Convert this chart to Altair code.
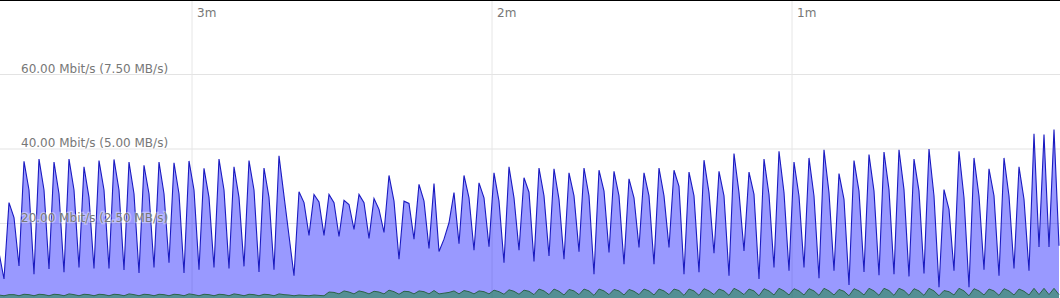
import altair as alt
import pandas as pd

# received (blue) throughput, Mbit/s, one sample per second, oldest first
rx_mbit = [
    12.2, 5.1, 25.6, 21.6, 8.6, 36.7, 29.0, 6.4, 37.3, 29.0,
    7.8, 36.5, 28.0, 6.9, 37.3, 29.0, 8.2, 35.2, 27.0, 7.9,
    36.9, 29.0, 7.9, 37.2, 29.0, 7.5, 36.5, 28.0, 6.7, 35.6,
    28.0, 8.2, 36.5, 28.0, 9.5, 36.3, 28.0, 6.7, 36.8, 29.0,
    7.6, 34.8, 27.0, 8.2, 37.3, 29.0, 7.9, 35.2, 27.0, 8.5,
    36.9, 29.0, 7.0, 34.9, 27.0, 7.6, 38.2, 27.4, 16.7, 6.0,
    28.5, 25.6, 16.8, 27.8, 25.8, 16.8, 27.8, 25.6, 16.5, 26.2,
    25.1, 18.4, 27.8, 25.6, 16.0, 26.7, 23.8, 17.6, 32.9, 26.0,
    10.4, 26.0, 25.4, 15.8, 30.5, 26.0, 13.3, 30.7, 12.5, 15.8,
    20.2, 28.3, 14.6, 32.9, 26.9, 12.8, 30.9, 26.9, 13.8, 33.6,
    26.0, 9.5, 35.2, 26.9, 12.8, 32.3, 28.4, 9.8, 34.9, 27.4,
    11.3, 34.7, 26.5, 10.4, 33.6, 27.4, 12.4, 34.9, 27.4, 6.4,
    34.3, 28.7, 12.2, 34.0, 27.4, 9.1, 32.0, 26.9, 13.6, 33.6,
    27.4, 9.1, 34.9, 27.4, 13.6, 34.3, 30.0, 6.4, 33.8, 27.4,
    6.9, 37.0, 28.3, 12.0, 34.0, 27.4, 6.0, 38.8, 28.3, 12.6,
    33.8, 27.8, 5.1, 37.3, 27.8, 8.2, 39.4, 28.3, 7.3, 36.5,
    27.4, 8.2, 37.6, 27.4, 5.3, 39.8, 28.3, 7.3, 33.4, 26.5,
    3.5, 36.9, 28.7, 7.0, 38.5, 28.7, 6.1, 39.2, 29.1, 6.4,
    39.8, 29.1, 5.8, 37.3, 28.7, 6.6, 40.0, 27.4, 2.9, 29.1,
    23.8, 7.3, 39.4, 26.9, 2.9, 37.6, 27.4, 7.6, 34.7, 27.4,
    6.0, 37.6, 27.4, 7.9, 35.2, 26.5, 7.3, 44.1, 13.7, 43.9,
    13.7, 45.2, 14.0,
]

# transmitted (green) throughput, Mbit/s
tx_mbit = [
    0.8, 0.6, 0.9, 0.9, 0.6, 1.0, 0.9, 0.6, 1.0, 0.9,
    0.6, 1.0, 0.9, 0.6, 1.1, 0.9, 0.6, 1.0, 0.9, 0.6,
    1.0, 0.9, 0.6, 1.0, 0.9, 0.6, 1.1, 0.9, 0.6, 1.0,
    0.9, 0.6, 1.0, 0.9, 0.6, 1.0, 0.9, 0.6, 1.1, 0.9,
    0.6, 1.0, 0.9, 0.6, 1.0, 0.9, 0.6, 1.1, 0.9, 0.6,
    1.0, 0.9, 0.6, 1.0, 0.9, 0.6, 1.1, 0.9, 0.8, 0.6,
    0.8, 0.7, 0.6, 0.8, 0.7, 0.6, 1.6, 1.5, 1.1, 1.9,
    1.6, 1.1, 1.9, 1.6, 1.1, 1.8, 1.6, 1.1, 2.1, 1.7,
    1.0, 1.8, 1.7, 1.1, 1.9, 1.7, 1.1, 2.0, 1.1, 1.3,
    1.5, 1.9, 1.1, 2.0, 1.7, 1.1, 1.9, 1.7, 1.1, 2.1,
    1.7, 1.0, 2.2, 1.8, 1.0, 2.1, 1.8, 0.9, 2.4, 1.9,
    0.9, 2.4, 1.8, 0.8, 2.3, 1.9, 0.9, 2.4, 1.9, 0.7,
    2.4, 1.9, 0.9, 2.3, 1.9, 0.8, 2.3, 1.8, 0.9, 2.4,
    1.9, 0.8, 2.4, 1.9, 0.9, 2.4, 2.0, 0.7, 2.4, 1.9,
    0.7, 2.5, 1.9, 0.9, 2.4, 1.9, 0.7, 2.6, 1.9, 0.9,
    2.4, 1.9, 0.6, 2.5, 1.9, 0.8, 2.6, 1.9, 0.8, 2.5,
    1.9, 0.8, 2.5, 1.9, 0.7, 2.6, 1.9, 0.8, 2.3, 1.8,
    0.6, 2.5, 1.9, 0.8, 2.6, 1.9, 0.7, 2.6, 2.0, 0.7,
    2.6, 2.0, 0.7, 2.5, 1.9, 0.7, 2.6, 1.9, 0.6, 2.0,
    1.7, 0.8, 2.6, 1.9, 0.6, 2.5, 1.9, 0.8, 2.4, 1.9,
    0.7, 2.5, 1.9, 0.8, 2.4, 1.8, 0.8, 2.6, 0.9, 2.6,
    0.9, 2.6, 0.9,
]

# time stamps of the samples, seconds before "now"
newest_sample_ago = 6.6
seconds_ago = [newest_sample_ago + (len(rx_mbit) - 1 - k) for k in range(len(rx_mbit))]

y_ticks = [20, 40, 60]
y_labels = ["20.00 Mbit/s (2.50 MB/s)", "40.00 Mbit/s (5.00 MB/s)", "60.00 Mbit/s (7.50 MB/s)"]
x_ticks = [180, 120, 60]
x_labels = ["3m", "2m", "1m"]

df = pd.DataFrame({"ago": seconds_ago, "rx": rx_mbit, "tx": tx_mbit})
ydf = pd.DataFrame({"v": y_ticks, "label": y_labels})
xdf = pd.DataFrame({"t": x_ticks, "label": x_labels})

xs = alt.Scale(domain=[218.4, 6.4], nice=False, zero=False)
ys = alt.Scale(domain=[0, 80], nice=False)
FONT = "DejaVu Sans"
LABEL_COLOR = "#777777"

hgrid = alt.Chart(ydf).mark_rule(color="#e3e3e3", strokeWidth=1).encode(
    y=alt.Y("v:Q", scale=ys, axis=None),
    x=alt.value(0), x2=alt.value(1060),
)
vgrid = alt.Chart(xdf).mark_rule(color="#e6e6e6", strokeWidth=1).encode(
    x=alt.X("t:Q", scale=xs, axis=None),
    y=alt.value(0), y2=alt.value(298),
)

rx_area = alt.Chart(df).mark_area(color="#0000ff", opacity=0.4, clip=True).encode(
    x=alt.X("ago:Q", scale=xs, axis=None),
    y=alt.Y("rx:Q", scale=ys, axis=None),
)
rx_line = alt.Chart(df).mark_line(color="#1a1ac0", strokeWidth=1.1, clip=True).encode(
    x=alt.X("ago:Q", scale=xs, axis=None),
    y=alt.Y("rx:Q", scale=ys, axis=None),
)
tx_area = alt.Chart(df).mark_area(color="#2f8a5a", opacity=0.65, clip=True).encode(
    x=alt.X("ago:Q", scale=xs, axis=None),
    y=alt.Y("tx:Q", scale=ys, axis=None),
)
tx_line = alt.Chart(df).mark_line(color="#2b6347", strokeWidth=1, clip=True).encode(
    x=alt.X("ago:Q", scale=xs, axis=None),
    y=alt.Y("tx:Q", scale=ys, axis=None),
)

ylab_halo = alt.Chart(ydf).mark_text(
    font=FONT, fontSize=12, align="left", baseline="alphabetic", dy=-2,
    color="white", stroke="white", strokeWidth=2.5, strokeOpacity=0.6, opacity=0.6,
).encode(y=alt.Y("v:Q", scale=ys, axis=None), x=alt.value(21), text="label:N")
ylab = alt.Chart(ydf).mark_text(
    font=FONT, fontSize=12, align="left", baseline="alphabetic", dy=-2, color=LABEL_COLOR,
).encode(y=alt.Y("v:Q", scale=ys, axis=None), x=alt.value(21), text="label:N")

xlab = alt.Chart(xdf).mark_text(
    font=FONT, fontSize=12, align="left", baseline="alphabetic", dx=5, color=LABEL_COLOR,
).encode(x=alt.X("t:Q", scale=xs, axis=None), y=alt.value(17), text="label:N")

top_border = alt.Chart(xdf).mark_rule(color="#000000", strokeWidth=2).encode(
    x=alt.value(0), x2=alt.value(1060), y=alt.value(0)
)

chart = alt.layer(
    hgrid, vgrid, rx_area, rx_line, tx_area, tx_line, ylab_halo, ylab, xlab, top_border
).properties(
    width=1060, height=298, padding=0, autosize=alt.AutoSizeParams(type="none"),
    background="white",
).configure_view(strokeWidth=0)

chart.save("out.html", embed_options={"renderer": "svg", "actions": False})
